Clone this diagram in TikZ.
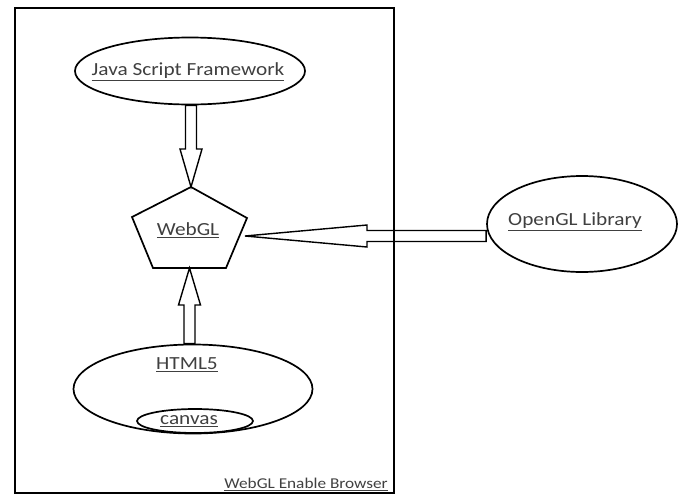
\documentclass[tikz,border=0pt]{standalone}
\usepackage{fontspec}
\setmainfont{Carlito}
\usetikzlibrary{calc,shapes.geometric}

\tikzset{
  blob/.style={draw, ellipse, line width=1.7pt, inner sep=0pt},
  lbl/.style={font=\fontsize{18.5}{20}\selectfont, text=black!75, inner sep=0.75pt},
  hollow/.style={draw, line width=1.4pt, line join=miter},
}
% wide underlined label text
\newcommand{\wlbl}[1]{\scalebox{1.15}[1]{\underline{#1}}}
% hollow block arrow: from, to, head length
\newcommand{\blockarrow}[3]{%
  \draw[hollow] let \p1=(#1), \p2=(#2), \n1={atan2(\y2-\y1,\x2-\x1)}, \n2={veclen(\x2-\x1,\y2-\y1)} in
    [shift={(\p1)}, rotate=\n1] (0,-5.5) -- (\n2-#3,-5.5) -- (\n2-#3,-11) -- (\n2,0) -- (\n2-#3,11) -- (\n2-#3,5.5) -- (0,5.5) -- cycle;
}

\begin{document}
\begin{tikzpicture}[x=1pt,y=-1pt]
\useasboundingbox (0,0) rectangle (680,493);

%browser frame
\node[draw, line width=1.9pt, minimum width=379, minimum height=485, anchor=north west, inner sep=0pt] (browser) at (14,7) {};
\node[font=\fontsize{15}{16}\selectfont, text=black!75, anchor=south east, inner sep=1pt] (brtxt) at ($(browser.south east)+(-6,-2)$) {\wlbl{WebGL Enable Browser}};

%Java Script Framework
\node[blob, minimum width=230, minimum height=67] (js) at (190,71) {};
\node[lbl] (jstxt) at (188,72) {\wlbl{Java Script Framework}};

%WebGL pentagon
\node[lbl] (webgl) at (188,230) {\wlbl{WebGL}};
\coordinate (wtop) at ($(webgl)+(3,-43)$);
\coordinate (wright) at ($(webgl)+(59,-12)$);
\coordinate (wbr) at ($(webgl)+(38,38)$);
\coordinate (wbl) at ($(webgl)+(-35,38)$);
\coordinate (wleft) at ($(webgl)+(-56,-13)$);
\coordinate (wbot) at ($(wbl)!0.5!(wbr)$);
\coordinate (wtip) at ($(webgl)+(57,6)$);
\draw[line width=1.7pt, line join=miter] (wtop) -- (wright) -- (wbr) -- (wbl) -- (wleft) -- cycle;

%HTML5 with canvas
\node[blob, minimum width=239, minimum height=89] (html) at (193,389) {};
\node[lbl] (htmltxt) at (187,365) {\wlbl{HTML5}};
\node[blob, minimum width=116, minimum height=24] (canvas) at (195,421) {};
\node[lbl] (canvastxt) at (189,421) {\wlbl{canvas}};

%OpenGL Library
\node[blob, minimum width=190, minimum height=96] (ogl) at (582,224) {};
\node[lbl] (ogltxt) at (575,222) {\wlbl{OpenGL Library}};

%arrows
\blockarrow{js.south -| wtop}{wtop}{38}
\blockarrow{html.north -| wbot}{wbot}{37}
\blockarrow{ogl.west |- wtip}{wtip}{122}

\end{tikzpicture}
\end{document}
